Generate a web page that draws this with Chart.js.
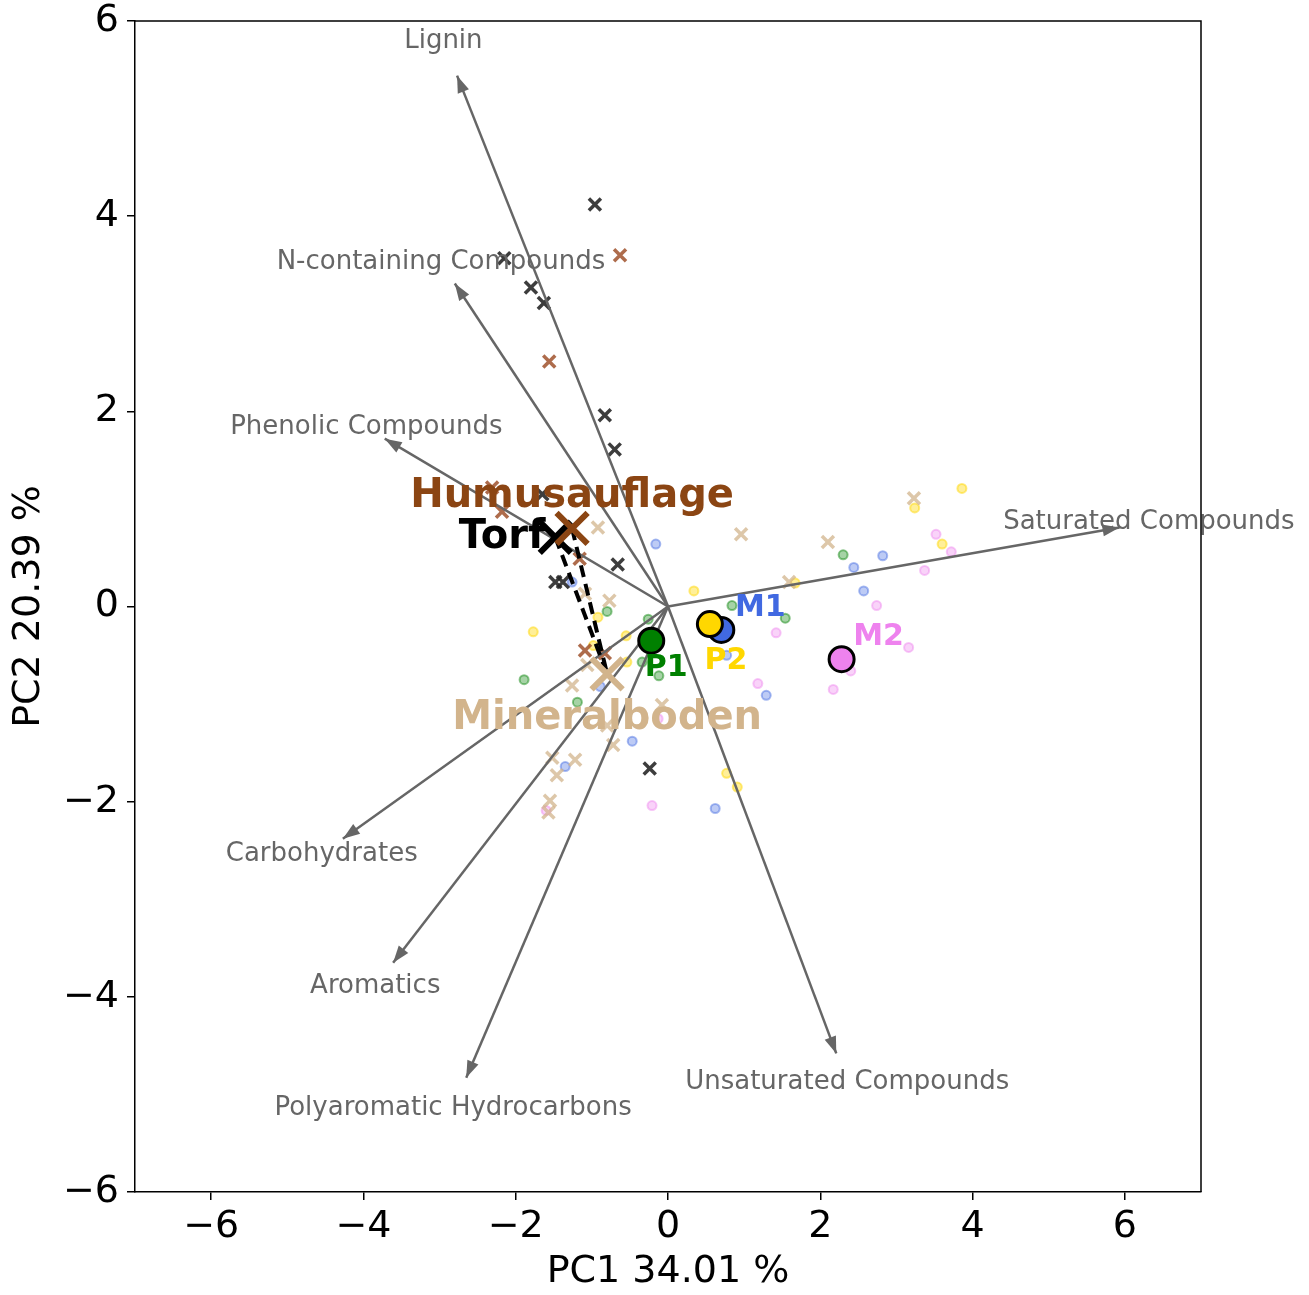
<!DOCTYPE html>
<html>
<head>
<meta charset="utf-8">
<script src="https://cdn.jsdelivr.net/npm/chart.js@4.4.1/dist/chart.umd.min.js"></script>
<style>
  body { margin: 0; background: #fff; }
  #biplot { display: block; }
</style>
</head>
<body>
<canvas id="biplot" width="1309" height="1295"></canvas>
<script>
'use strict'

// achsen
const xTicks = [-6, -4, -2, 0, 2, 4, 6];
const yTicks = [-6, -4, -2, 0, 2, 4, 6];
const xTitle = 'PC1 34.01 %';
const yTitle = 'PC2 20.39 %';

// loadings (pfeilspitzen)
const loadingNames = ['Lignin', 'N-containing Compounds', 'Phenolic Compounds', 'Saturated Compounds',
  'Carbohydrates', 'Aromatics', 'Polyaromatic Hydrocarbons', 'Unsaturated Compounds'];
const loadingX = [-2.77, -2.80, -3.72, 5.93, -4.27, -3.61, -2.65, 2.21];
const loadingY = [5.44, 3.31, 1.72, 0.81, -2.38, -3.65, -4.83, -4.58];

// proben nach bodentyp (x marker)
const torfX = [-0.96, -2.15, -1.80, -1.63, -0.83, -0.70, -1.65, -0.66, -1.48, -1.38, -0.24];
const torfY = [4.12, 3.57, 3.27, 3.11, 1.96, 1.61, 1.15, 0.43, 0.25, 0.25, -1.66];
const humusX = [-0.63, -1.56, -2.31, -2.18, -1.09, -0.83, -1.16];
const humusY = [3.60, 2.51, 1.22, 0.97, -0.45, -0.48, 0.49];
const mineralX = [-0.92, -0.77, -1.09, 0.96, 2.10, 3.23, 1.59, -1.26, -1.06, -1.52, -1.22, -1.46, -1.55, -1.57, -0.72, -0.08, -0.80];
const mineralY = [0.81, 0.06, 0.13, 0.74, 0.66, 1.11, 0.25, -0.81, -0.60, -1.55, -1.57, -1.73, -1.99, -2.11, -1.42, -1.01, -1.22];

// proben nach standort (kreise)
const p1X = [2.30, 1.54, 0.84, -0.26, -0.80, -1.89, -1.19, -0.34, -0.12];
const p1Y = [0.53, -0.12, 0.01, -0.13, -0.05, -0.75, -0.98, -0.57, -0.71];
const m1X = [-0.16, 2.82, 2.44, 2.57, -1.26, -0.89, 1.29, 0.77, -0.47, -1.35, 0.62];
const m1Y = [0.64, 0.52, 0.40, 0.16, 0.25, -0.82, -0.91, -0.50, -1.38, -1.64, -2.07];
const p2X = [3.86, 3.24, 3.60, 1.67, 0.34, -1.77, -0.92, -0.55, -0.98, -0.54, 0.77, 0.91];
const p2Y = [1.21, 1.01, 0.64, 0.24, 0.16, -0.26, -0.11, -0.30, -0.40, -0.57, -1.71, -1.85];
const m2X = [3.52, 3.72, 3.37, 2.74, 3.16, 1.42, 1.18, 2.17, 2.40, -0.21, -1.60, -0.13];
const m2Y = [0.74, 0.56, 0.37, 0.01, -0.42, -0.27, -0.79, -0.85, -0.66, -2.04, -2.09, -1.15];

// mittelpunkte
const groupNames = ['Humusauflage', 'Torf', 'Mineralboden'];
const groupX = [-1.26, -1.48, -0.80];
const groupY = [0.80, 0.71, -0.69];
const siteNames = ['P1', 'P2', 'M1', 'M2'];
const siteX = [-0.22, 0.55, 0.70, 2.28];
const siteY = [-0.35, -0.18, -0.24, -0.54];

const FONT = 'DejaVu Sans';
const groupColors = ['#8B4513', '#000000', '#D2B48C'];
const siteColors = ['#008000', '#FFD700', '#4169E1', '#EE82EE'];

function pts(xs, ys) {
  return xs.map((x, i) => ({ x: x, y: ys[i] }));
}

function crossSet(xs, ys, color, order) {
  return {
    type: 'scatter', data: pts(xs, ys), order: order,
    pointStyle: 'crossRot', pointRadius: 8.5, borderWidth: 3.5,
    borderColor: color, backgroundColor: color
  };
}

function circleSet(xs, ys, fill, edge, order) {
  return {
    type: 'scatter', data: pts(xs, ys), order: order,
    pointStyle: 'circle', pointRadius: 4.5, borderWidth: 2,
    borderColor: edge, backgroundColor: fill
  };
}

const datasets = [];
// kleine proben
datasets.push(circleSet(p1X, p1Y, 'rgba(0,128,0,0.35)', 'rgba(0,128,0,0.45)', 10));
datasets.push(circleSet(m1X, m1Y, 'rgba(65,105,225,0.35)', 'rgba(65,105,225,0.45)', 10));
datasets.push(circleSet(p2X, p2Y, 'rgba(255,215,0,0.4)', 'rgba(255,215,0,0.5)', 10));
datasets.push(circleSet(m2X, m2Y, 'rgba(238,130,238,0.35)', 'rgba(238,130,238,0.45)', 10));
datasets.push(crossSet(mineralX, mineralY, 'rgba(210,180,140,0.75)', 9));
datasets.push(crossSet(humusX, humusY, 'rgba(160,82,45,0.85)', 9));
datasets.push(crossSet(torfX, torfY, 'rgba(40,40,40,0.9)', 9));

// pfeile als linien vom ursprung
loadingNames.forEach((name, i) => {
  datasets.push({
    type: 'line', label: name, order: 8,
    data: [{ x: 0, y: 0 }, { x: loadingX[i], y: loadingY[i] }],
    borderColor: '#666666', borderWidth: 2.5, pointRadius: 0, fill: false
  });
});

// gestrichelte verbindungen zu mineralboden
[0, 1].forEach((g) => {
  datasets.push({
    type: 'line', order: 7,
    data: [{ x: groupX[g], y: groupY[g] }, { x: groupX[2], y: groupY[2] }],
    borderColor: '#000000', borderWidth: 4, borderDash: [12, 7], pointRadius: 0, fill: false
  });
});

// grosse x fuer bodentyp
groupNames.forEach((name, g) => {
  datasets.push({
    type: 'scatter', order: 6, data: [{ x: groupX[g], y: groupY[g] }],
    pointStyle: 'crossRot', pointRadius: 22, borderWidth: 6,
    borderColor: groupColors[g], backgroundColor: groupColors[g]
  });
});

// grosse kreise fuer standorte
siteNames.forEach((name, s) => {
  datasets.push({
    type: 'scatter', order: 5, data: [{ x: siteX[s], y: siteY[s] }],
    pointStyle: 'circle', pointRadius: 12.5, borderWidth: 3,
    borderColor: '#000000', backgroundColor: siteColors[s]
  });
});

// pfeilspitzen, beschriftungen, rahmen
const decoPlugin = {
  id: 'deco',
  afterDatasetsDraw(chart) {
    const ctx = chart.ctx;
    const xs = chart.scales.x;
    const ys = chart.scales.y;
    const area = chart.chartArea;
    ctx.save();

    // pfeilspitzen
    loadingNames.forEach((name, i) => {
      const tx = xs.getPixelForValue(loadingX[i]);
      const ty = ys.getPixelForValue(loadingY[i]);
      const ox = xs.getPixelForValue(0);
      const oy = ys.getPixelForValue(0);
      const ang = Math.atan2(ty - oy, tx - ox);
      ctx.fillStyle = '#666666';
      ctx.beginPath();
      ctx.moveTo(tx, ty);
      ctx.lineTo(tx - 17 * Math.cos(ang) + 6 * Math.sin(ang), ty - 17 * Math.sin(ang) - 6 * Math.cos(ang));
      ctx.lineTo(tx - 17 * Math.cos(ang) - 6 * Math.sin(ang), ty - 17 * Math.sin(ang) + 6 * Math.cos(ang));
      ctx.closePath();
      ctx.fill();
    });

    // loading namen
    ctx.font = '26px "' + FONT + '"';
    ctx.fillStyle = '#666666';
    ctx.textAlign = 'center';
    ctx.textBaseline = 'middle';
    loadingNames.forEach((name, i) => {
      ctx.fillText(name, xs.getPixelForValue(loadingX[i] * 1.065), ys.getPixelForValue(loadingY[i] * 1.065));
    });

    // bodentyp namen
    ctx.font = 'bold 40px "' + FONT + '"';
    const gx = groupX.map((v) => xs.getPixelForValue(v));
    const gy = groupY.map((v) => ys.getPixelForValue(v));
    ctx.fillStyle = groupColors[0];
    ctx.textAlign = 'center';
    ctx.fillText(groupNames[0], gx[0], gy[0] - 32);
    ctx.fillStyle = groupColors[1];
    ctx.textAlign = 'right';
    ctx.fillText(groupNames[1], gx[1] - 10, gy[1]);
    ctx.fillStyle = groupColors[2];
    ctx.textAlign = 'center';
    ctx.fillText(groupNames[2], gx[2], gy[2] + 45);

    // standort namen
    ctx.font = 'bold 30px "' + FONT + '"';
    const offs = [[15, 28], [16, 37], [39, -22], [37, -22]];
    siteNames.forEach((name, s) => {
      ctx.fillStyle = siteColors[s];
      ctx.fillText(name, xs.getPixelForValue(siteX[s]) + offs[s][0], ys.getPixelForValue(siteY[s]) + offs[s][1]);
    });

    // rahmen oben und rechts
    ctx.strokeStyle = '#000000';
    ctx.lineWidth = 1.5;
    ctx.beginPath();
    ctx.moveTo(area.left, area.top);
    ctx.lineTo(area.right, area.top);
    ctx.lineTo(area.right, area.bottom);
    ctx.stroke();
    ctx.restore();
  }
};

function minusSign(v) {
  return String(v).replace('-', '\u2212');
}

new Chart(document.getElementById('biplot'), {
  type: 'scatter',
  data: { datasets: datasets },
  options: {
    responsive: false,
    animation: false,
    layout: { autoPadding: false, padding: { top: 21, right: 108, left: 0, bottom: 0 } },
    plugins: { legend: { display: false }, tooltip: { enabled: false } },
    scales: {
      x: {
        type: 'linear', min: -7, max: 7,
        afterBuildTicks: (scale) => { scale.ticks = xTicks.map((v) => ({ value: v })); },
        afterFit: (scale) => { scale.height = 103; scale.paddingLeft = 0; scale.paddingRight = 0; },
        grid: { display: true, drawOnChartArea: false, drawTicks: true, tickLength: 8, color: '#000', lineWidth: 1.5 },
        border: { display: true, color: '#000', width: 1.5 },
        ticks: { color: '#000', font: { family: FONT, size: 38 }, padding: 4, callback: minusSign, maxRotation: 0 },
        title: { display: true, text: xTitle, color: '#000', font: { family: FONT, size: 38 }, padding: { top: 0, bottom: 0 } }
      },
      y: {
        type: 'linear', min: -6, max: 6,
        afterBuildTicks: (scale) => { scale.ticks = yTicks.map((v) => ({ value: v })); },
        afterFit: (scale) => { scale.width = 135; scale.paddingTop = 0; scale.paddingBottom = 0; },
        grid: { display: true, drawOnChartArea: false, drawTicks: true, tickLength: 8, color: '#000', lineWidth: 1.5 },
        border: { display: true, color: '#000', width: 1.5 },
        ticks: { color: '#000', font: { family: FONT, size: 38 }, padding: 8, callback: minusSign },
        title: { display: true, text: yTitle, color: '#000', font: { family: FONT, size: 38 }, padding: { top: 6, bottom: 0 } }
      }
    }
  },
  plugins: [decoPlugin]
});
</script>
</body>
</html>
